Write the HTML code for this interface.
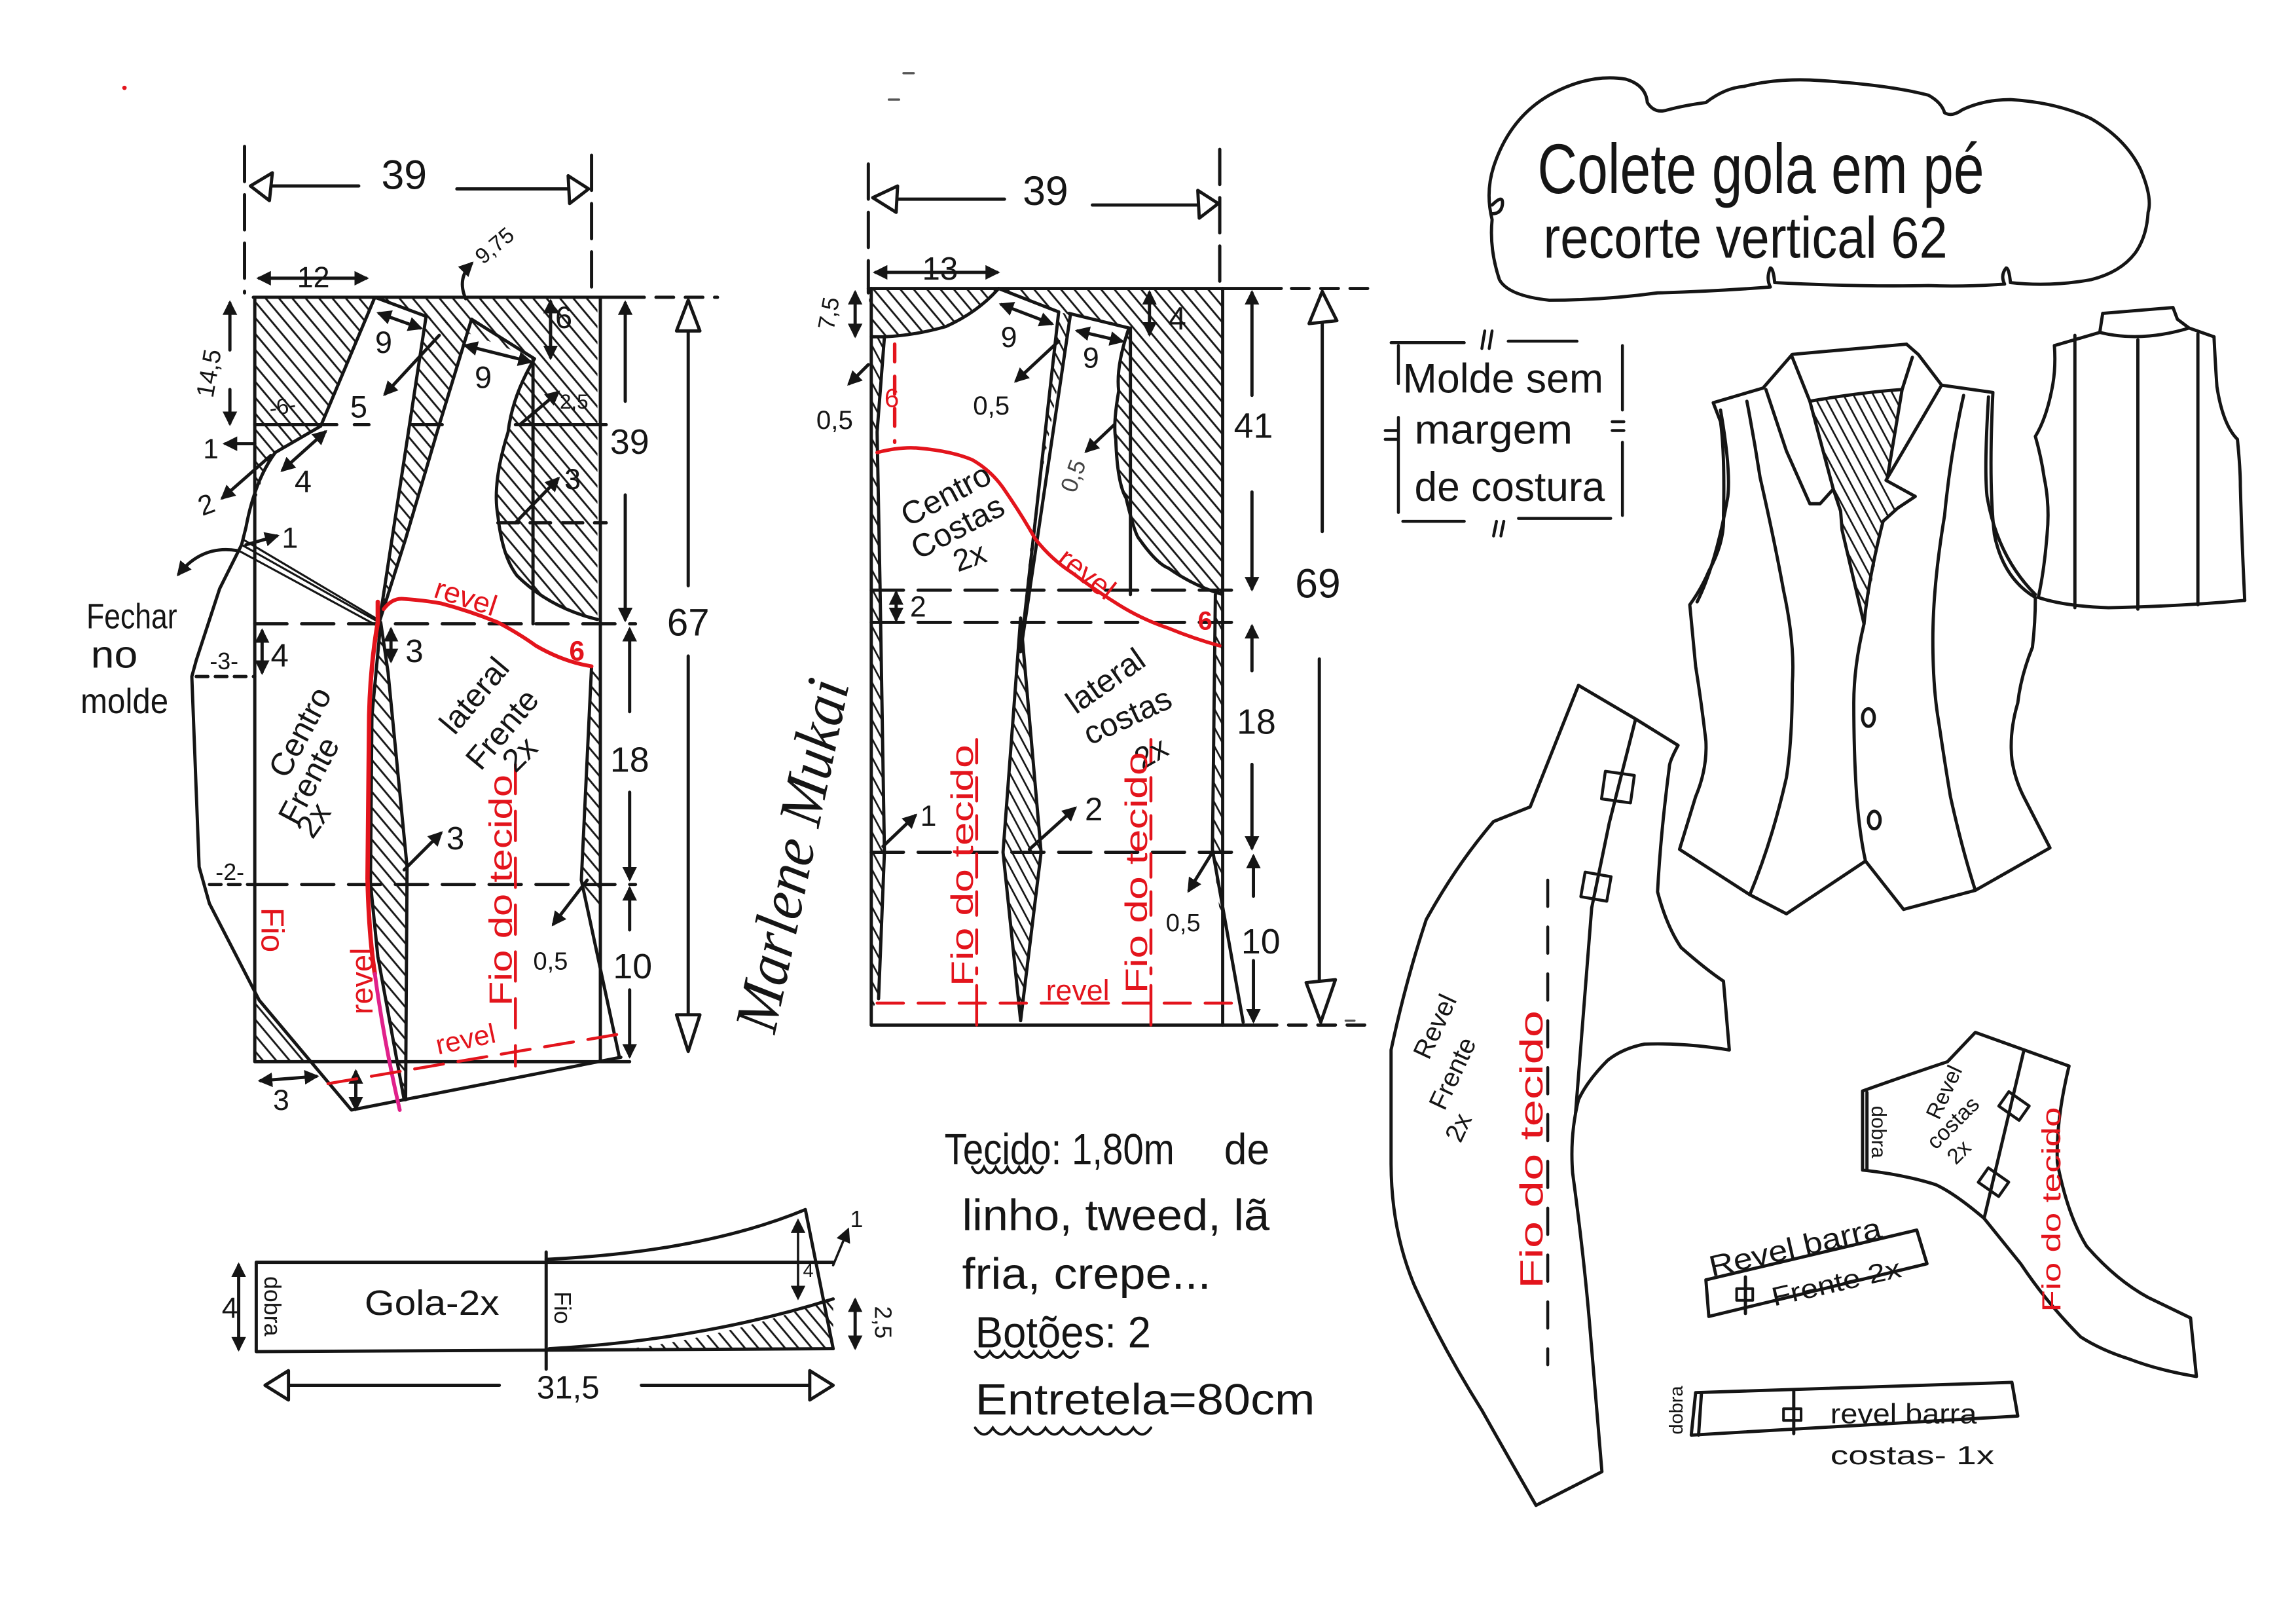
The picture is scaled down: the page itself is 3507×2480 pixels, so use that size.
<!DOCTYPE html>
<html><head><meta charset="utf-8">
<style>
html,body{margin:0;padding:0;background:#fff;width:3507px;height:2480px;overflow:hidden}
svg{display:block}
text{font-family:"Liberation Sans",sans-serif;fill:#151515;stroke:none}
.r{fill:#e3141c}
.m{text-anchor:middle}
.c{text-anchor:middle;dominant-baseline:central}
</style></head><body>
<svg width="3507" height="2480" viewBox="0 0 1568 1109" preserveAspectRatio="none">
<defs>
<pattern id="h" width="7" height="7" patternUnits="userSpaceOnUse" patternTransform="rotate(-40)"><line x1="1" y1="-1" x2="1" y2="8" stroke="#151515" stroke-width="1.3"/></pattern>
<pattern id="hs" width="6" height="6" patternUnits="userSpaceOnUse" patternTransform="rotate(-28)"><line x1="1" y1="-1" x2="1" y2="7" stroke="#151515" stroke-width="1.2"/></pattern>
<marker id="a" viewBox="0 0 10 10" refX="8" refY="5" markerWidth="10" markerHeight="10" markerUnits="userSpaceOnUse" orient="auto-start-reverse"><path d="M0,0 L10,5 L0,10 Z" fill="#151515"/></marker>
</defs>
<rect width="1568" height="1109" fill="#fff"/>

<!-- ================= FRONT PATTERN ================= -->
<g stroke="none">
<path fill="url(#h)" d="M174,203 L256,203 L219,291 L188,309 Q178,325 174,345 Z"/>
<path fill="url(#h)" d="M256,203 L365,245 Q350,270 347,295 Q336,330 340,352 Q343,380 353,393 Q375,415 408,423 L408,203 Z"/>
<path fill="url(#h)" d="M291,216 L322,218 L300,290 L277,368 L259,425 Z"/>
<path fill="url(#h)" d="M260,425 L265,459 L278,592 L277,751 L275,751 L258,653 L253,603 L254,489 Z"/>
<path fill="url(#h)" d="M404,455 L410,455 L410,628 L397,601 Z"/>
<path fill="url(#h)" d="M175,683 L212,725 L175,725 Z"/>
</g>
<g fill="none" stroke="#151515" stroke-width="2.2" stroke-linecap="round" stroke-linejoin="round">
<path d="M167,100 V200 M404,106 V200" stroke-dasharray="24,9"/>
<path d="M185,127 H245 M312,129 H388"/>
<polygon points="171,127 186,118 184,137" fill="#fff"/>
<polygon points="402,129 388,120 389,139" fill="#fff"/>
<path d="M177,190 H250" marker-start="url(#a)" marker-end="url(#a)"/>
<path d="M173,203 H440"/>
<path d="M448,203 H490" stroke-dasharray="12,8"/>
<path d="M174,203 V725 M410,203 V725 M174,725 H430"/>
<path d="M256,203 L219,291 L188,309 Q174,328 168,360 L165,372 L150,402 L134,451 L131,462 L136,592 L143,617 L177,683 L240,758 L424,722"/>
<path d="M404,455 L397,601 L423,722"/>
<path d="M256,203 L291,216 M322,218 L365,245"/>
<path d="M291,216 L259,425 M322,218 L300,290 L277,368 L259,425"/>
<path d="M365,245 Q350,270 347,295 Q336,330 340,352 Q343,380 353,393 Q375,415 408,423"/>
<path d="M364,245 V426"/>
<path d="M174,290 H230 M242,290 H252 M281,290 H302 M352,290 H414"/>
<path d="M340,357 H414" stroke-dasharray="14,8"/>
<path d="M174,426 H434" stroke-dasharray="22,10"/>
<path d="M134,462 H174 M143,604 H174" stroke-dasharray="8,5"/>
<path d="M174,604 H434" stroke-dasharray="22,10"/>
<path d="M260,425 L254,489 L253,603 L258,653 L276,751 M260,425 L265,459 L278,592 L277,751"/>
<path d="M165,372 L259,425 M167,369 L258,423 M163,376 L257,427" stroke-width="1.4"/>
<path d="M427,274 V207" marker-end="url(#a)"/>
<path d="M427,338 V423" marker-end="url(#a)"/>
<path d="M430,486 V430" marker-end="url(#a)"/>
<path d="M430,541 V600" marker-end="url(#a)"/>
<path d="M430,635 V607" marker-end="url(#a)"/>
<path d="M430,676 V721" marker-end="url(#a)"/>
<path d="M470,225 V400 M470,448 V693"/>
<polygon points="470,205 462,226 478,226" fill="#fff"/>
<polygon points="462,693 478,693 470,718" fill="#fff"/>
<path d="M318,204 Q312,190 322,180" marker-end="url(#a)"/>
<path d="M259,214 L287,224" marker-start="url(#a)" marker-end="url(#a)"/>
<path d="M318,236 L362,247" marker-start="url(#a)" marker-end="url(#a)"/>
<path d="M300,229 L263,269" marker-end="url(#a)"/>
<path d="M376,206 V244" marker-start="url(#a)" marker-end="url(#a)"/>
<path d="M355,290 L381,268" marker-end="url(#a)"/>
<path d="M352,357 L381,327" marker-end="url(#a)"/>
<path d="M157,239 V207" marker-end="url(#a)"/>
<path d="M157,266 V289" marker-end="url(#a)"/>
<path d="M174,303 L154,303" marker-end="url(#a)"/>
<path d="M185,311 L152,340" marker-end="url(#a)"/>
<path d="M193,321 L222,295" marker-start="url(#a)" marker-end="url(#a)"/>
<path d="M168,372 L189,366" marker-end="url(#a)"/>
<path d="M162,376 Q138,372 122,392" marker-end="url(#a)"/>
<path d="M179,431 V459" marker-start="url(#a)" marker-end="url(#a)"/>
<path d="M267,430 V451" marker-start="url(#a)" marker-end="url(#a)"/>
<path d="M276,594 L301,569" marker-end="url(#a)"/>
<path d="M401,601 L378,631" marker-end="url(#a)"/>
<path d="M178,738 L216,735" marker-start="url(#a)" marker-end="url(#a)"/>
<path d="M243,732 V757" marker-start="url(#a)" marker-end="url(#a)"/>
</g>
<g fill="none" stroke-linecap="round">
<path d="M258,411 L258,425 Q252,460 252,500 L251,600 Q252,640 256,665" stroke="#e3141c" stroke-width="3"/>
<path d="M256,665 Q262,710 273,758" stroke="#e0208a" stroke-width="2.6"/>
<path d="M262,416 Q268,408 276,409 Q290,410 301,412 Q320,417 340,425 Q355,433 366,441 Q385,452 404,455" stroke="#e3141c" stroke-width="2.6"/>
<path d="M352,522 V728" stroke="#e3141c" stroke-width="2" stroke-dasharray="20,12"/>
<path d="M224,740 L424,706" stroke="#e3141c" stroke-width="2" stroke-dasharray="20,10"/>
</g>
<text x="276" y="129" font-size="28" class="m">39</text>
<text x="214" y="196" font-size="20" class="m">12</text>
<text transform="translate(338,168) rotate(-40)" font-size="15" class="c">9,75</text>
<text x="262" y="241" font-size="21" class="m">9</text>
<text x="330" y="265" font-size="21" class="m">9</text>
<text x="245" y="285" font-size="21" class="m">5</text>
<text x="385" y="224" font-size="21" class="m">6</text>
<text x="392" y="279" font-size="14" class="m">2,5</text>
<text x="391" y="334" font-size="20" class="m">3</text>
<text transform="translate(143,255) rotate(-80)" font-size="17" class="c">14,5</text>
<text transform="translate(193,278) rotate(-10)" font-size="15" class="c">-6-</text>
<text x="144" y="313" font-size="19" class="m">1</text>
<text transform="translate(141,345) rotate(-20)" font-size="19" class="c">2</text>
<text x="207" y="336" font-size="21" class="m">4</text>
<text x="198" y="374" font-size="20" class="m">1</text>
<text x="59" y="429" font-size="24" textLength="62" lengthAdjust="spacingAndGlyphs">Fechar</text>
<text x="62" y="456" font-size="26" textLength="32" lengthAdjust="spacingAndGlyphs">no</text>
<text x="55" y="487" font-size="24" textLength="60" lengthAdjust="spacingAndGlyphs">molde</text>
<text x="153" y="457" font-size="16" class="m">-3-</text>
<text x="191" y="455" font-size="22" class="m">4</text>
<text x="283" y="452" font-size="22" class="m">3</text>
<text x="157" y="601" font-size="16" class="m">-2-</text>
<text x="430" y="310" font-size="24" class="m">39</text>
<text x="430" y="527" font-size="24" class="m">18</text>
<text x="432" y="668" font-size="24" class="m">10</text>
<text x="470" y="434" font-size="26" class="m">67</text>
<text transform="translate(205,500) rotate(-62)" font-size="22" class="c">Centro</text>
<text transform="translate(211,533) rotate(-62)" font-size="22" class="c">Frente</text>
<text transform="translate(214,560) rotate(-55)" font-size="22" class="c">2x</text>
<text transform="translate(324,475) rotate(-50)" font-size="22" class="c">lateral</text>
<text transform="translate(343,498) rotate(-50)" font-size="22" class="c">Frente</text>
<text transform="translate(355,515) rotate(-45)" font-size="22" class="c">2x</text>
<text x="311" y="580" font-size="22" class="m">3</text>
<text x="376" y="662" font-size="17" class="m">0,5</text>
<text x="192" y="758" font-size="20" class="m">3</text>
<text transform="translate(318,408) rotate(18)" font-size="20" class="c r">revel</text>
<text x="394" y="451" font-size="19" class="m r" font-weight="bold">6</text>
<text transform="translate(342,608) rotate(-90)" font-size="22" class="c r" textLength="158" lengthAdjust="spacingAndGlyphs">Fio do tecido</text>
<text transform="translate(186,635) rotate(90)" font-size="22" class="c r">Fio</text>
<text transform="translate(247,670) rotate(-90)" font-size="21" class="c r">revel</text>
<text transform="translate(318,710) rotate(-12)" font-size="19" class="c r">revel</text>

<!-- ================= BACK PATTERN ================= -->
<g stroke="none">
<path fill="url(#h)" d="M593,197 L682,197 Q668,213 646,223 Q625,229 604,230 L595,230 Z"/>
<path fill="url(#h)" d="M682,197 L723,213 L731,215 L771,224 Q762,250 764,267 Q760,290 762,300 Q763,330 769,340 Q775,365 778,368 Q790,385 798,388 Q815,400 835,406 L835,197 Z"/>
<path fill="url(#hs)" d="M723,213 L731,215 L705,360 L699,420 Z"/>
<path fill="url(#hs)" d="M697,422 L685,582 L697,697 L711,582 Z"/>
<path fill="url(#hs)" d="M595,230 L604,230 L599,295 L601,400 L604,582 L600,682 L595,690 Z"/>
<path fill="url(#hs)" d="M830,406 L835,406 L835,640 L828,580 Z"/>
</g>
<g fill="none" stroke="#151515" stroke-width="2.2" stroke-linecap="round" stroke-linejoin="round">
<path d="M593,112 V200 M833,102 V200" stroke-dasharray="24,9"/>
<path d="M613,136 H686 M746,140 H818"/>
<polygon points="596,135 613,127 612,145" fill="#fff"/>
<polygon points="832,139 818,130 819,149" fill="#fff"/>
<path d="M598,186 H681" marker-start="url(#a)" marker-end="url(#a)"/>
<path d="M593,197 H875"/>
<path d="M882,197 H935" stroke-dasharray="12,8"/>
<path d="M682,197 Q668,213 646,223 Q625,229 604,230 L595,230"/>
<path d="M595,197 V700"/>
<path d="M604,230 L599,295 L601,400 L604,582 L600,682"/>
<path d="M682,197 L723,213 M730,214 L771,224"/>
<path d="M723,213 L697,445 M731,215 L697,445"/>
<path d="M771,224 Q762,250 764,267 Q760,290 762,300 Q763,330 769,340 Q775,365 778,368 Q790,385 798,388 Q815,400 835,406"/>
<path d="M772,224 V406"/>
<path d="M835,197 V700"/>
<path d="M595,403 H842 M595,425 H842 M595,582 H842" stroke-dasharray="22,10"/>
<path d="M697,422 L685,582 L697,697 L711,582 Z"/>
<path d="M830,406 L828,580 L849,698"/>
<path d="M595,700 H872"/>
<path d="M880,700 H935" stroke-dasharray="12,8"/>
<path d="M584,200 V229" marker-start="url(#a)" marker-end="url(#a)"/>
<path d="M593,249 L580,262" marker-end="url(#a)"/>
<path d="M684,208 L718,221" marker-start="url(#a)" marker-end="url(#a)"/>
<path d="M736,226 L766,233" marker-start="url(#a)" marker-end="url(#a)"/>
<path d="M723,233 L694,260" marker-end="url(#a)"/>
<path d="M785,200 V228" marker-start="url(#a)" marker-end="url(#a)"/>
<path d="M761,290 L742,308" marker-end="url(#a)"/>
<path d="M612,405 V423" marker-start="url(#a)" marker-end="url(#a)"/>
<path d="M855,270 V200" marker-end="url(#a)"/>
<path d="M855,336 V402" marker-end="url(#a)"/>
<path d="M855,458 V428" marker-end="url(#a)"/>
<path d="M855,522 V579" marker-end="url(#a)"/>
<path d="M856,612 V585" marker-end="url(#a)"/>
<path d="M856,656 V697" marker-end="url(#a)"/>
<path d="M903,220 V363 M901,450 V672"/>
<polygon points="903,199 894,221 913,219" fill="#fff"/>
<polygon points="892,671 912,669 902,698" fill="#fff"/>
<path d="M603,578 L625,557" marker-end="url(#a)"/>
<path d="M703,580 L734,552" marker-end="url(#a)"/>
<path d="M828,582 L812,608" marker-end="url(#a)"/>
</g>
<g fill="none" stroke="#e3141c" stroke-width="2.4" stroke-linecap="round">
<path d="M599,309 Q615,305 627,306 Q650,308 664,314 Q678,322 687,336 Q698,352 707,368 Q718,382 732,391 Q748,403 764,413 Q780,423 798,429 Q815,436 833,441"/>
<path d="M611,235 V302" stroke-dasharray="12,10"/>
<path d="M599,685 H844" stroke-width="2" stroke-dasharray="18,10"/>
<path d="M667,673 V700 M786,673 V700" stroke-width="2"/>
<path d="M667,505 V665 M786,505 V665" stroke-width="2" stroke-dasharray="16,10"/>
</g>
<text x="714" y="140" font-size="28" class="m">39</text>
<text x="642" y="191" font-size="22" class="m">13</text>
<text transform="translate(566,214) rotate(-80)" font-size="16" class="c">7,5</text>
<text x="570" y="293" font-size="18" class="m">0,5</text>
<text x="689" y="237" font-size="20" class="m">9</text>
<text x="745" y="251" font-size="20" class="m">9</text>
<text x="677" y="283" font-size="18" class="m">0,5</text>
<text x="804" y="225" font-size="22" class="m">4</text>
<text transform="translate(733,325) rotate(-70)" font-size="16" class="c" style="fill:#444">0,5</text>
<text transform="translate(646,338) rotate(-28)" font-size="22" class="c">Centro</text>
<text transform="translate(654,360) rotate(-28)" font-size="22" class="c">Costas</text>
<text transform="translate(662,380) rotate(-20)" font-size="21" class="c">2x</text>
<text x="627" y="421" font-size="20" class="m">2</text>
<text x="856" y="299" font-size="24" class="m">41</text>
<text x="900" y="408" font-size="28" class="m">69</text>
<text x="858" y="501" font-size="24" class="m">18</text>
<text x="861" y="651" font-size="24" class="m">10</text>
<text transform="translate(755,465) rotate(-35)" font-size="22" class="c">lateral</text>
<text transform="translate(770,489) rotate(-25)" font-size="22" class="c">costas</text>
<text transform="translate(786,514) rotate(-30)" font-size="21" class="c">2x</text>
<text x="634" y="564" font-size="20" class="m">1</text>
<text x="747" y="560" font-size="22" class="m">2</text>
<text x="808" y="636" font-size="17" class="m">0,5</text>
<text x="609" y="278" font-size="18" class="m r">6</text>
<text transform="translate(742,392) rotate(38)" font-size="20" class="c r">revel</text>
<text x="823" y="430" font-size="18" class="m r" font-weight="bold">6</text>
<text x="736" y="683" font-size="20" class="m r">revel</text>
<text transform="translate(657,591) rotate(-90)" font-size="21" class="c r" textLength="165" lengthAdjust="spacingAndGlyphs">Fio do tecido</text>
<text transform="translate(776,596) rotate(-90)" font-size="21" class="c r" textLength="165" lengthAdjust="spacingAndGlyphs">Fio do tecido</text>

<!-- signature -->
<text transform="translate(541,584) rotate(-78)" font-size="42" font-style="italic" class="c" style="font-family:'Liberation Serif',serif" textLength="245" lengthAdjust="spacingAndGlyphs">Marlene Mukai</text>

<!-- ================= COLLAR ================= -->
<path fill="url(#h)" stroke="none" d="M430,921 Q500,912 569,887 L569,922 Z"/>
<g fill="none" stroke="#151515" stroke-width="2.2" stroke-linecap="round" stroke-linejoin="round">
<path d="M175,862 H569 M175,923 L569,921 M175,862 V923"/>
<path d="M373,855 V935"/>
<path d="M373,860 Q480,855 550,826 L569,921"/>
<path d="M375,921 Q480,915 569,887"/>
<path d="M163,864 V921" marker-start="url(#a)" marker-end="url(#a)"/>
<path d="M545,834 V886" marker-start="url(#a)" marker-end="url(#a)" stroke-width="1.6"/>
<path d="M569,864 L579,840" marker-end="url(#a)" stroke-width="1.6"/>
<path d="M584,888 V920" marker-start="url(#a)" marker-end="url(#a)"/>
<path d="M197,946 H341 M438,946 H553"/>
<polygon points="181,946 197,936 197,956" fill="#fff"/>
<polygon points="569,946 553,936 553,956" fill="#fff"/>
</g>
<text x="295" y="898" font-size="24" class="m" textLength="92" lengthAdjust="spacingAndGlyphs">Gola-2x</text>
<text transform="translate(186,892) rotate(90)" font-size="16" class="c">dobra</text>
<text x="157" y="900" font-size="20" class="m">4</text>
<text transform="translate(384,893) rotate(90)" font-size="16" class="c">Fio</text>
<text x="552" y="872" font-size="13" class="m">4</text>
<text x="585" y="838" font-size="16" class="m">1</text>
<text transform="translate(603,903) rotate(90)" font-size="16" class="c">2,5</text>
<text x="388" y="955" font-size="22" class="m">31,5</text>

<!-- ================= TEXT BLOCK ================= -->
<text x="645" y="795" font-size="30" textLength="157" lengthAdjust="spacingAndGlyphs">Tecido: 1,80m</text>
<text x="836" y="795" font-size="30" textLength="31" lengthAdjust="spacingAndGlyphs">de</text>
<text x="657" y="840" font-size="30" textLength="210" lengthAdjust="spacingAndGlyphs">linho, tweed, lã</text>
<text x="657" y="880" font-size="30" textLength="170" lengthAdjust="spacingAndGlyphs">fria, crepe...</text>
<text x="666" y="920" font-size="30" textLength="120" lengthAdjust="spacingAndGlyphs">Botões: 2</text>
<text x="666" y="966" font-size="30" textLength="232" lengthAdjust="spacingAndGlyphs">Entretela=80cm</text>
<g fill="none" stroke="#151515" stroke-width="1.8" stroke-linecap="round">
<path d="M664,797 q4,8 8,0 q4,8 8,0 q4,8 8,0 q4,8 8,0 q4,8 8,0 q4,8 8,0"/>
<path d="M666,923 q5,8 10,0 q5,8 10,0 q5,8 10,0 q5,8 10,0 q5,8 10,0 q5,8 10,0 q5,8 10,0"/>
<path d="M666,975 q6,9 12,0 q6,9 12,0 q6,9 12,0 q6,9 12,0 q6,9 12,0 q6,9 12,0 q6,9 12,0 q6,9 12,0 q6,9 12,0 q6,9 12,0"/>
</g>

<!-- ================= TITLE CLOUD ================= -->
<g fill="none" stroke="#151515" stroke-width="2.2" stroke-linecap="round" stroke-linejoin="round">
<path d="M1019,150 Q1014,130 1021,111 Q1032,80 1058,65 Q1085,50 1110,54 Q1124,58 1125,70 Q1130,78 1139,75 Q1150,72 1165,70 Q1178,60 1191,59 Q1215,53 1243,55 Q1290,58 1317,65 Q1326,70 1328,77 Q1333,80 1340,75 Q1355,68 1373,68 Q1405,70 1428,81 Q1452,95 1462,116 Q1470,135 1467,145 Q1466,162 1458,173 Q1448,186 1428,191 Q1400,196 1373,193 Q1372,183 1370,183 Q1366,188 1369,194 Q1340,196 1317,195 Q1270,196 1212,193 Q1211,183 1209,183 Q1206,190 1209,196 Q1170,199 1132,200 Q1095,205 1058,205 Q1030,202 1024,191 Q1017,170 1019,150 Z"/>
<path d="M1019,140 Q1027,132 1026,140 Q1025,146 1019,146"/>
</g>
<text x="1050" y="132" font-size="48" textLength="305" lengthAdjust="spacingAndGlyphs">Colete gola em pé</text>
<text x="1054" y="176" font-size="40" textLength="276" lengthAdjust="spacingAndGlyphs">recorte vertical 62</text>

<!-- Molde sem margem de costura -->
<g fill="none" stroke="#151515" stroke-width="2" stroke-linecap="round">
<path d="M955,236 V262 M955,285 V350"/>
<path d="M1108,236 V280 M1108,302 V352"/>
<path d="M950,234 H1000 M1030,233 H1077"/>
<path d="M958,356 H1000 M1037,354 H1100"/>
<path d="M1014,226 L1012,238 M1019,226 L1017,238"/>
<path d="M1022,356 L1020,366 M1027,356 L1025,366"/>
<path d="M946,294 H954 M946,300 H954 M1101,288 H1109 M1101,294 H1109"/>
</g>
<text x="958" y="268" font-size="28" textLength="137" lengthAdjust="spacingAndGlyphs">Molde sem</text>
<text x="966" y="303" font-size="28" textLength="108" lengthAdjust="spacingAndGlyphs">margem</text>
<text x="966" y="342" font-size="28" textLength="130" lengthAdjust="spacingAndGlyphs">de costura</text>

<!-- ================= VEST FRONT ================= -->
<path fill="url(#hs)" stroke="none" d="M1236,274 L1299,266 L1288,328 L1296,347 L1286,356 L1273,426 L1258,362 L1257,349 L1252,334 Z"/>
<g fill="none" stroke="#151515" stroke-width="2.2" stroke-linecap="round" stroke-linejoin="round">
<path d="M1170,275 L1204,265 L1224,242 L1302,235 L1310,242 L1326,263 L1361,268 Q1358,330 1362,365 Q1368,395 1390,408 Q1390,425 1388,442 Q1380,462 1378,480 Q1372,500 1374,519 Q1376,532 1382,544 L1400,579 L1349,608 L1300,621 L1274,588 L1220,624 L1195,611 L1147,580 L1158,544 Q1166,525 1165,506 Q1162,480 1158,455 L1154,413 Q1162,402 1167,390 Q1178,370 1177,352 Q1178,310 1175,288 Z"/>
<path d="M1175,280 Q1182,320 1180,339 Q1172,385 1159,411"/>
<path d="M1358,271 Q1355,320 1357,339 Q1364,380 1390,406"/>
<path d="M1193,274 Q1198,300 1202,326 Q1212,370 1218,403 Q1226,440 1224,467 Q1224,505 1220,531 Q1210,575 1195,611"/>
<path d="M1341,270 Q1332,310 1328,352 Q1320,400 1320,437 Q1320,470 1324,493 Q1328,520 1332,544 Q1340,580 1349,608"/>
<path d="M1286,356 Q1276,395 1273,426 Q1266,455 1266,480 Q1266,515 1268,544 Q1270,570 1274,588"/>
<path d="M1206,266 Q1214,290 1220,308 L1236,344 L1243,344 L1252,334 L1257,349 L1258,362 L1273,426"/>
<path d="M1224,244 L1236,274 L1252,334"/>
<path d="M1326,263 L1288,328 L1308,339 L1296,347 L1286,356"/>
<path d="M1306,244 L1299,266 L1289,326"/>
<path d="M1236,274 Q1270,268 1299,266"/>
<ellipse cx="1276" cy="490" rx="4" ry="6"/>
<ellipse cx="1280" cy="560" rx="4" ry="6"/>
</g>

<!-- ================= VEST BACK ================= -->
<g fill="none" stroke="#151515" stroke-width="2.2" stroke-linecap="round" stroke-linejoin="round">
<path d="M1436,214 Q1460,212 1484,210 L1487,218 L1495,224"/>
<path d="M1436,214 L1434,227"/>
<path d="M1434,227 Q1462,234 1495,224"/>
<path d="M1434,227 L1403,236 M1495,224 L1512,230"/>
<path d="M1403,236 Q1404,250 1402,262 Q1398,285 1390,298 Q1394,312 1396,326 Q1400,345 1398,365 Q1396,390 1392,408"/>
<path d="M1512,230 Q1513,250 1514,264 Q1518,290 1528,300 Q1530,320 1530,332 Q1531,370 1533,410"/>
<path d="M1392,408 Q1410,414 1440,415 Q1490,414 1533,410"/>
<path d="M1417,229 V415 M1460,232 V416 M1501,228 V413"/>
</g>

<!-- ================= REVEL FRENTE ================= -->
<g fill="none" stroke="#151515" stroke-width="2.2" stroke-linecap="round" stroke-linejoin="round">
<path d="M1078,468 L1117,491 L1146,509 Q1140,520 1140,524 Q1134,570 1132,609 Q1138,632 1148,647 Q1165,662 1177,670 L1181,717 Q1150,712 1123,713 Q1108,716 1098,724 Q1084,738 1078,751 Q1072,775 1074,801 Q1082,860 1086,909 L1094,1005 L1049,1028 Q1030,995 1012,963 Q985,920 966,878 Q950,840 950,794 L950,717 Q960,670 974,628 Q995,590 1020,561 L1045,551 Z"/>
<path d="M1117,491 L1099,562 L1087,620 L1076,760"/>
<rect x="1095" y="528" width="20" height="19" transform="rotate(8 1105 537)" stroke-width="2"/>
<rect x="1081" y="597" width="18" height="17" transform="rotate(10 1090 605)" stroke-width="2"/>
<path d="M1057,601 V932" stroke-width="2" stroke-dasharray="18,14"/>
</g>
<text transform="translate(1046,785) rotate(-90)" font-size="22" class="c r" textLength="190" lengthAdjust="spacingAndGlyphs">Fio do tecido</text>
<text transform="translate(980,701) rotate(-65)" font-size="18" class="c">Revel</text>
<text transform="translate(992,733) rotate(-65)" font-size="18" class="c">Frente</text>
<text transform="translate(996,770) rotate(-65)" font-size="18" class="c">2x</text>

<!-- ================= REVEL COSTAS ================= -->
<g fill="none" stroke="#151515" stroke-width="2.2" stroke-linecap="round" stroke-linejoin="round">
<path d="M1272,745 Q1300,735 1330,725 L1349,705 L1413,728 Q1404,765 1405,794 Q1412,830 1425,851 Q1445,874 1467,886 L1496,900 L1500,940 Q1475,936 1454,928 Q1435,922 1421,913 Q1398,890 1380,863 L1355,832 Q1335,815 1322,809 Q1300,802 1272,799 Z"/>
<path d="M1275,746 V799"/>
<path d="M1382,718 L1355,832"/>
<rect x="1367" y="749" width="17" height="12" transform="rotate(35 1375 755)" stroke-width="2"/>
<rect x="1353" y="801" width="17" height="12" transform="rotate(35 1361 807)" stroke-width="2"/>
</g>
<text transform="translate(1283,773) rotate(90)" font-size="14" class="c">dobra</text>
<text transform="translate(1328,746) rotate(-65)" font-size="15" class="c">Revel</text>
<text transform="translate(1334,767) rotate(-45)" font-size="15" class="c">costas</text>
<text transform="translate(1338,787) rotate(-45)" font-size="15" class="c">2x</text>
<text transform="translate(1401,826) rotate(-90)" font-size="18" class="c r" textLength="140" lengthAdjust="spacingAndGlyphs">Fio do tecido</text>

<!-- ================= REVEL BARRA ================= -->
<g fill="none" stroke="#151515" stroke-width="2.2" stroke-linecap="round" stroke-linejoin="round">
<polygon points="1165,874 1309,840 1316,863 1167,899"/>
<path d="M1192,872 V897"/>
<rect x="1186" y="880" width="11" height="8" stroke-width="1.8"/>
<polygon points="1158,951 1374,944 1378,967 1155,980"/>
<path d="M1162,951 L1160,980"/>
<path d="M1225,950 V979"/>
<rect x="1218" y="962" width="12" height="8" stroke-width="1.8"/>
</g>
<text transform="translate(1226,852) rotate(-13)" font-size="20" class="c" textLength="120" lengthAdjust="spacingAndGlyphs">Revel barra</text>
<text transform="translate(1254,876) rotate(-13)" font-size="18" class="c" textLength="90" lengthAdjust="spacingAndGlyphs">Frente 2x</text>
<text x="1250" y="972" font-size="19" textLength="100" lengthAdjust="spacingAndGlyphs">revel barra</text>
<text x="1250" y="1000" font-size="18" textLength="112" lengthAdjust="spacingAndGlyphs">costas- 1x</text>
<text transform="translate(1145,963) rotate(-90)" font-size="13" class="c">dobra</text>

<g stroke="#555" stroke-width="1.5" stroke-linecap="round">
<path d="M617,50 H624 M607,68 H614 M919,697 H925"/>
</g>
<circle cx="85" cy="60" r="1.5" fill="#e3141c"/>
</svg>
</body></html>
